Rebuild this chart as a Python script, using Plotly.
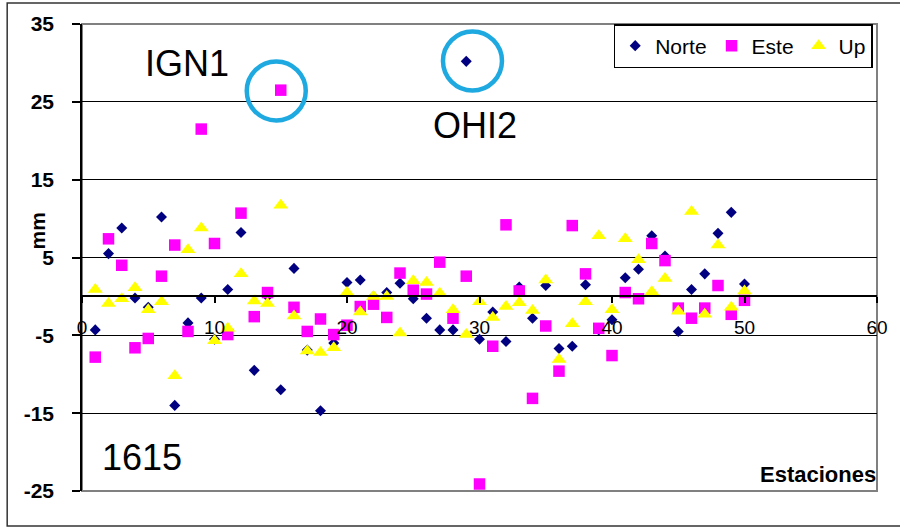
import plotly.graph_objects as go

stations = list(range(1, 51))

norte = [-4.3, 5.5, 8.8, -0.2, -1.4, 10.2, -14.0, -3.4, -0.2, -5.5,
         0.9, 8.2, -9.5, 0.0, -12.0, 3.6, -6.9, -14.7, -6.0, 1.8,
         2.1, 0.0, 0.5, 1.7, -0.3, -2.8, -4.3, -4.3, 30.2, -5.5,
         -2.0, -5.8, 1.2, -2.8, 1.4, -6.7, -6.4, 1.5, -4.3, -3.0,
         2.4, 3.5, 7.8, 5.2, -4.5, 0.9, 2.9, 8.1, 10.8, 1.6]

este = [-7.8, 7.4, 4.0, -6.6, -5.4, 2.6, 6.6, -4.5, 21.5, 6.8,
        -4.9, 10.7, -2.6, 0.5, 26.5, -1.4, -4.5, -2.9, -4.9, -3.7,
        -1.3, -1.0, -2.7, 3.0, 0.8, 0.3, 4.4, -2.8, 2.6, -24.1,
        -6.4, 9.2, 0.7, -13.1, -3.8, -9.6, 9.1, 2.9, -4.1, -7.6,
        0.5, -0.3, 6.8, 4.6, -1.5, -2.8, -1.5, 1.4, -2.3, -0.5]

up = [0.9, -0.9, -0.3, 1.1, -1.7, -0.7, -10.2, 6.0, 8.8, -5.7,
      -4.1, 2.9, -0.6, -0.9, 11.7, -2.5, -7.0, -7.2, -6.6, 0.5,
      -2.0, 0.0, 0.0, -4.7, 2.0, 1.8, 0.4, -1.7, -4.9, -0.7,
      -2.7, -1.3, -0.8, -1.8, 2.1, -8.1, -3.5, -0.7, 7.8, -1.7,
      7.4, 4.7, 0.6, 2.3, -1.9, 10.9, -2.3, 6.6, -1.4, 0.7]

x_ticks = [0, 10, 20, 30, 40, 50, 60]
y_ticks = [-25, -15, -5, 5, 15, 25, 35]

# highlighted outliers (station, value) and labels
circles = [(14.66, 26.4), (29.47, 30.24)]
labels = [("IGN1", 7.94, 29.9), ("OHI2", 29.67, 22.0), ("1615", 4.5, -20.65)]

FONT = "Liberation Sans, Arial, sans-serif"

fig = go.Figure()
fig.add_trace(go.Scatter(x=stations, y=norte, mode="markers", name="Norte",
                         marker=dict(symbol="diamond", size=8.5, color="#000080")))
fig.add_trace(go.Scatter(x=stations, y=este, mode="markers", name="Este",
                         marker=dict(symbol="square", size=11.5, color="#FF00FF")))
fig.add_trace(go.Scatter(x=stations, y=up, mode="markers", name="Up",
                         marker=dict(symbol="triangle-up", size=13, color="#FFFF00")))

shapes = []
# plot area border
shapes.append(dict(type="rect", xref="paper", yref="paper", x0=0, x1=1, y0=0, y1=1,
                   line=dict(color="#808080", width=2), layer="below"))
# chart outer frame
shapes.append(dict(type="rect", xref="paper", yref="paper",
                   x0=-0.0941, x1=1.05, y0=-0.0749, y1=1.045,
                   line=dict(color="#333333", width=1.5), layer="below"))
for cx, cy in circles:
    shapes.append(dict(type="circle", xref="x", yref="y", xsizemode="pixel", ysizemode="pixel",
                       xanchor=cx, yanchor=cy, x0=-29.5, x1=29.5, y0=-29.5, y1=29.5,
                       line=dict(color="#1FA9E1", width=4.5)))

annotations = []
for txt, ax, ay in labels:
    annotations.append(dict(text=txt, x=ax, y=ay, xref="x", yref="y", showarrow=False,
                            font=dict(family=FONT, size=36, color="black"),
                            xanchor="center", yanchor="middle"))
annotations.append(dict(text="Estaciones", x=1.0013, y=0.0343, xref="paper", yref="paper",
                        showarrow=False, xanchor="right", yanchor="middle",
                        font=dict(family=FONT, size=22, color="black", weight="bold")))
annotations.append(dict(text="mm", x=-0.0565, y=0.556, xref="paper", yref="paper",
                        showarrow=False, textangle=-90, xanchor="center", yanchor="middle",
                        font=dict(family=FONT, size=21, color="black", weight="bold")))

fig.update_layout(
    width=900, height=527,
    margin=dict(l=82, r=21, t=24, b=36),
    paper_bgcolor="white", plot_bgcolor="white",
    font=dict(family=FONT, color="black"),
    xaxis=dict(range=[0, 60], tickvals=x_ticks, ticktext=[str(v) for v in x_ticks],
               anchor="free", position=25 / 60, showgrid=False, zeroline=False,
               showline=True, linecolor="black", linewidth=1.5,
               ticks="outside", ticklen=6, tickcolor="black", tickwidth=1.5,
               ticklabelstandoff=8,
               tickfont=dict(family=FONT, size=19, color="black")),
    yaxis=dict(range=[-25, 35], tickvals=y_ticks, ticktext=[str(v) for v in y_ticks],
               showgrid=True, gridcolor="black", gridwidth=1, zeroline=False,
               showline=True, linecolor="black", linewidth=1.5,
               ticks="outside", ticklen=8, tickcolor="black", tickwidth=1.5,
               ticklabelstandoff=14,
               tickfont=dict(family=FONT, size=21, color="black", weight="bold")),
    legend=dict(orientation="h", x=0.9946, xanchor="right", y=1.0, yanchor="top",
                bgcolor="white", bordercolor="black", borderwidth=1.5,
                font=dict(family=FONT, size=21, color="black"), itemwidth=30),
    shapes=shapes,
    annotations=annotations,
)

fig.write_html("out.html")
